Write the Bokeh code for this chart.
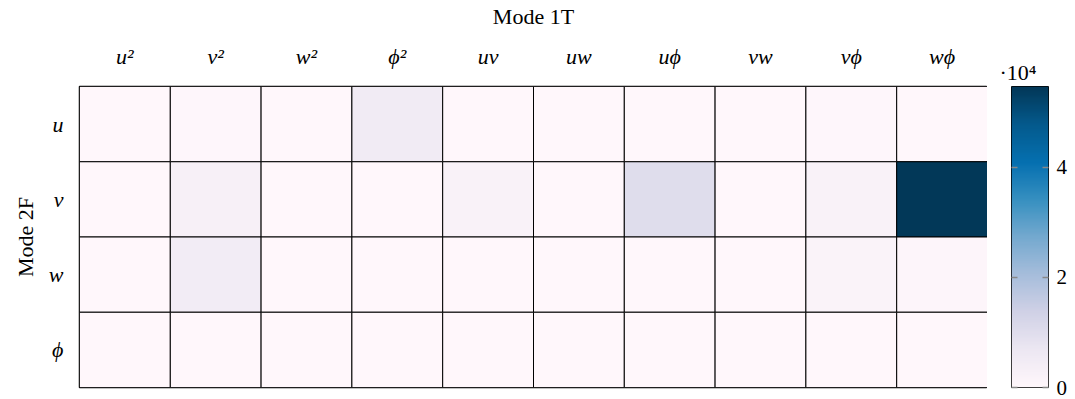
import numpy as np
from bokeh.plotting import figure
from bokeh.layouts import row
from bokeh.models import ColumnDataSource, LinearColorMapper, FixedTicker
from bokeh.palettes import PuBu9
from bokeh.embed import file_html
from bokeh.resources import INLINE

# ---- data ----
cols = ["u²", "v²", "w²", "ϕ²", "uv", "uw", "uϕ", "vw", "vϕ", "wϕ"]
rows = ["u", "v", "w", "ϕ"]
row_u   = [150, 250, 100, 5200, 100, 100, 200, 100, 250, 150]
row_v   = [100, 3200, 100, 150, 2300, 100, 10200, 100, 2200, 54700]
row_w   = [150, 4600, 150, 150, 100, 150, 100, 100, 1800, 900]
row_phi = [100, 200, 150, 100, 150, 100, 200, 100, 100, 150]
cbar_ticks = [0, 20000, 40000]
cbar_labels = ["0", "2", "4"]
vmax = 54700

# ---- palette (interpolated PuBu, light -> dark) ----
base = list(reversed(PuBu9))
def hex2rgb(h):
    return tuple(int(h[i:i + 2], 16) for i in (1, 3, 5))
rgb = [hex2rgb(c) for c in base]
pal = []
N = 256
for i in range(N):
    t = i / (N - 1) * (len(rgb) - 1)
    k = min(int(t), len(rgb) - 2)
    f = t - k
    c = [round(rgb[k][j] + (rgb[k + 1][j] - rgb[k][j]) * f) for j in range(3)]
    pal.append("#%02x%02x%02x" % tuple(c))

xs, ys, vs = [], [], []
for r, vals in zip(rows, [row_u, row_v, row_w, row_phi]):
    for c, v in zip(cols, vals):
        xs.append(c)
        ys.append(r)
        vs.append(v)
src = ColumnDataSource(dict(x=xs, y=ys, v=vs))

mapper = LinearColorMapper(palette=pal, low=0, high=vmax)

FONT = "Liberation Serif"

# ---- heatmap ----
p = figure(x_range=cols, y_range=list(reversed(rows)), x_axis_location="above",
           frame_width=908, frame_height=301, output_backend="svg",
           toolbar_location=None, min_border_left=79, min_border_top=86,
           min_border_bottom=12, min_border_right=0)
p.rect(x="x", y="y", width=1, height=1, source=src,
       fill_color={"field": "v", "transform": mapper},
       line_color="black", line_width=1)

p.outline_line_color = "black"
p.outline_line_width = 1.5
p.grid.grid_line_color = None

for ax in (p.xaxis[0], p.yaxis[0]):
    ax.axis_line_color = None
    ax.major_tick_line_color = None
    ax.minor_tick_line_color = None
    ax.major_label_text_font = FONT
    ax.major_label_text_font_style = "italic"
    ax.major_label_text_font_size = "22px"
    ax.major_label_text_color = "black"
    ax.axis_label_text_font = FONT
    ax.axis_label_text_font_style = "normal"
    ax.axis_label_text_font_size = "22px"
    ax.axis_label_text_color = "black"

p.xaxis.axis_label = "Mode 1T"
p.yaxis.axis_label = "Mode 2F"
p.xaxis.major_label_standoff = 12
p.yaxis.major_label_standoff = 10
p.xaxis.axis_label_standoff = 12
p.yaxis.axis_label_standoff = 8
p.yaxis.major_label_orientation = "horizontal"

# ---- colour bar as its own small figure ----
cb = figure(x_range=(0, 1), y_range=(0, vmax), frame_width=37, frame_height=301,
            output_backend="svg", toolbar_location=None,
            x_axis_location=None, y_axis_location="right",
            min_border_left=24, min_border_top=86, min_border_bottom=12,
            min_border_right=0)
grad = np.linspace(0, vmax, 301).reshape(-1, 1)
cb.image(image=[grad], x=0, y=0, dw=1, dh=vmax, color_mapper=mapper)
cb.grid.grid_line_color = None
cb.outline_line_color = "black"
cb.outline_line_width = 1
ya = cb.yaxis[0]
ya.ticker = FixedTicker(ticks=cbar_ticks)
ya.major_label_overrides = {t: l for t, l in zip(cbar_ticks, cbar_labels)}
ya.axis_line_color = None
ya.minor_tick_line_color = None
ya.major_tick_line_color = "#888888"
ya.major_tick_line_width = 1.5
ya.major_tick_in = 37
ya.major_tick_out = 0
ya.major_tick_line_dash = "6 25"
ya.major_label_text_font = FONT
ya.major_label_text_font_size = "21px"
ya.major_label_text_color = "black"
ya.major_label_standoff = 8

cb.title.text = "·10⁴"
cb.title.text_font = FONT
cb.title.text_font_style = "normal"
cb.title.text_font_size = "22px"
cb.title.text_color = "black"
cb.title.align = "left"
cb.title.offset = -12
cb.title.standoff = 4

layout = row(p, cb)
open("out.html", "w").write(file_html(layout, INLINE))
